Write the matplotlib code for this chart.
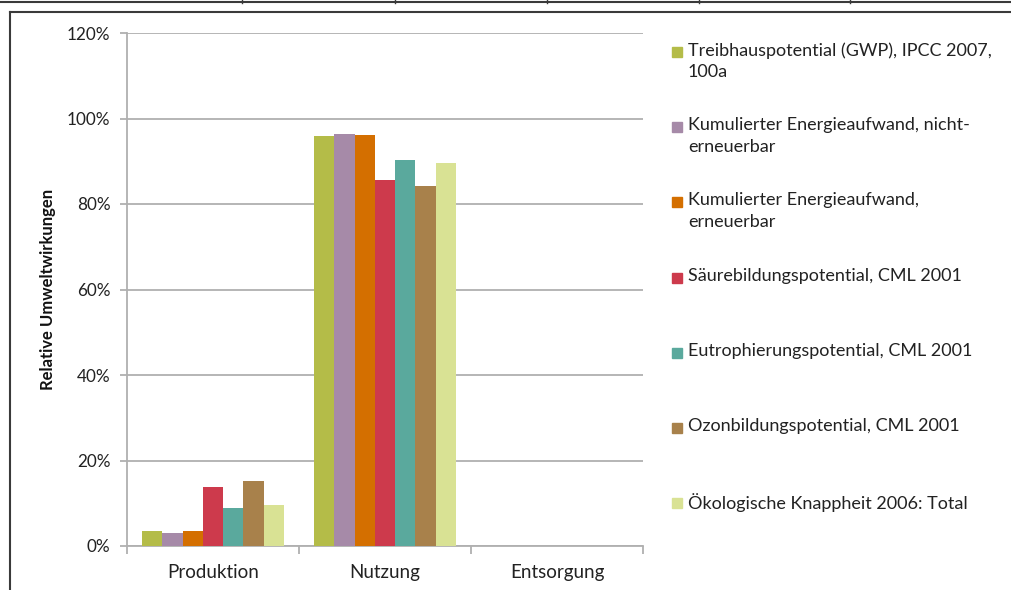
import matplotlib.pyplot as plt
import numpy as np
from matplotlib.lines import Line2D
from matplotlib.patches import Rectangle
from matplotlib.ticker import PercentFormatter

plt.rcParams['font.family'] = ['Lato', 'DejaVu Sans']

# Daten
phasen = ['Produktion', 'Nutzung', 'Entsorgung']
indikatoren = [
    'Treibhauspotential (GWP), IPCC 2007,\n100a',
    'Kumulierter Energieaufwand, nicht-\nerneuerbar',
    'Kumulierter Energieaufwand,\nerneuerbar',
    'Säurebildungspotential, CML 2001',
    'Eutrophierungspotential, CML 2001',
    'Ozonbildungspotential, CML 2001',
    'Ökologische Knappheit 2006: Total',
]
gwp = [0.034, 0.960, 0.0]
ked_nicht = [0.030, 0.963, 0.0]
ked_ern = [0.035, 0.961, 0.0]
saeure = [0.139, 0.857, 0.0]
eutro = [0.089, 0.903, 0.0]
ozon = [0.152, 0.843, 0.0]
ubp = [0.097, 0.896, 0.0]
werte = [gwp, ked_nicht, ked_ern, saeure, eutro, ozon, ubp]
farben = ['#b4bc48', '#a68aa8', '#d46f00', '#cd3a4c', '#5aa99d', '#a8814b', '#d9e294']

fig = plt.figure(figsize=(10.11, 5.90), dpi=100)
ax = fig.add_axes([127 / 1011, 44 / 590, 516 / 1011, 513 / 590])

x = np.arange(len(phasen))
w = 0.1176
for i, (vals, col) in enumerate(zip(werte, farben)):
    ax.bar(x + (i - 3) * w, vals, w, color=col, zorder=3)

ax.set_xlim(-0.5, 2.5)
ax.set_ylim(0, 1.2)
ax.set_yticks(np.arange(0, 1.21, 0.2))
ax.yaxis.set_major_formatter(PercentFormatter(1.0, decimals=0))
ax.set_xticks(x)
ax.set_xticklabels(phasen)
ax.set_xticks([-0.5, 0.5, 1.5, 2.5], minor=True)

grau = '#b0b0b0'
ax.grid(axis='y', color=grau, linewidth=1.3, zorder=0)
for s in ['top', 'right']:
    ax.spines[s].set_visible(False)
for s in ['left', 'bottom']:
    ax.spines[s].set_color(grau)
    ax.spines[s].set_linewidth(1.3)

ax.tick_params(axis='y', length=5, color=grau, width=1.3, labelsize=12.3,
               labelcolor='#222222', pad=7)
ax.tick_params(axis='x', which='major', length=0, labelsize=13.5,
               labelcolor='#222222', pad=13)
ax.tick_params(axis='x', which='minor', length=6, color=grau, width=1.3)

ax.set_ylabel('Relative Umweltwirkungen', fontsize=12, fontweight='bold',
              color='#111111', labelpad=8)

# Legende wie im Original (Quadrat an der ersten Zeile ausgerichtet)
W, H = 1011, 590
for i, (name, col) in enumerate(zip(indikatoren, farben)):
    yc = 52 + 75.2 * i
    fig.add_artist(Rectangle((672 / W, 1 - (yc + 5) / H), 10 / W, 10 / H,
                             transform=fig.transFigure, color=col))
    fig.text(688 / W, 1 - (yc - 10) / H, name, fontsize=13, color='#222222',
             va='top', ha='left', linespacing=1.45)

# Rahmen und Tabellenlinie oben
rahmen = '#3a3a3a'
fig.add_artist(Line2D([0, 1], [1 - 1.5 / H, 1 - 1.5 / H], color=rahmen, lw=1.5))
for xv in [242, 395, 547, 699, 850]:
    fig.add_artist(Line2D([xv / W, xv / W], [1, 1 - 3 / H], color=rahmen, lw=1))
fig.add_artist(Line2D([10 / W, 1], [1 - 12 / H, 1 - 12 / H], color=rahmen, lw=1.5))
fig.add_artist(Line2D([10 / W, 10 / W], [0, 1 - 12 / H], color=rahmen, lw=1.5))

fig.savefig('out.png', dpi=100)
